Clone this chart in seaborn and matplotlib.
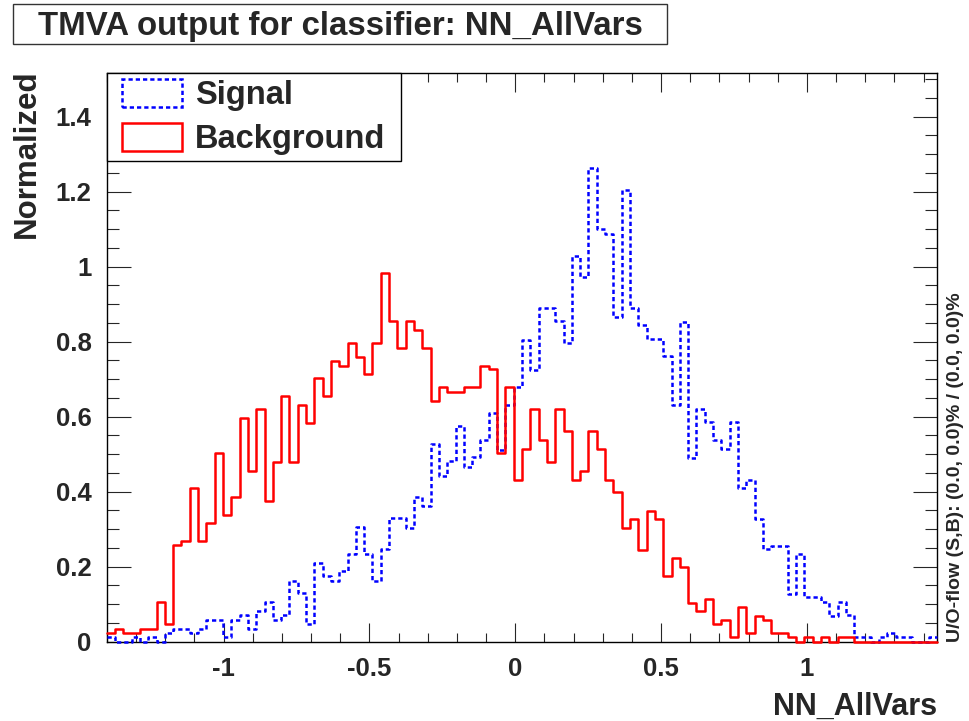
import numpy as np
import pandas as pd
import seaborn as sns
import matplotlib.pyplot as plt
from matplotlib.patches import Patch, Rectangle
from matplotlib.legend_handler import HandlerPatch
from matplotlib.ticker import MultipleLocator

# classifier output range (100 bins)
x_lo, x_hi = -1.401, 1.447

signal = [0.012, 0.0, 0.0, 0.012, 0.0, 0.012, 0.0, 0.023, 0.035, 0.035,
          0.023, 0.035, 0.058, 0.058, 0.012, 0.058, 0.070, 0.035, 0.082, 0.106,
          0.058, 0.070, 0.163, 0.130, 0.047, 0.210, 0.176, 0.163, 0.188, 0.234,
          0.305, 0.234, 0.163, 0.246, 0.329, 0.329, 0.303, 0.387, 0.361, 0.527,
          0.443, 0.481, 0.576, 0.467, 0.492, 0.539, 0.609, 0.512, 0.632, 0.678,
          0.804, 0.723, 0.889, 0.889, 0.854, 0.796, 1.029, 0.972, 1.263, 1.100,
          1.087, 0.865, 1.205, 0.889, 0.843, 0.807, 0.807, 0.761, 0.631, 0.851,
          0.491, 0.620, 0.585, 0.538, 0.514, 0.585, 0.409, 0.431, 0.327, 0.247,
          0.256, 0.256, 0.127, 0.235, 0.118, 0.118, 0.105, 0.069, 0.105, 0.070,
          0.012, 0.012, 0.0, 0.012, 0.023, 0.012, 0.012, 0.0, 0.0, 0.012]

background = [0.023, 0.035, 0.023, 0.023, 0.035, 0.035, 0.105, 0.047, 0.257, 0.269,
              0.409, 0.269, 0.316, 0.503, 0.339, 0.387, 0.596, 0.456, 0.620, 0.374,
              0.480, 0.655, 0.480, 0.632, 0.584, 0.702, 0.655, 0.747, 0.736, 0.795,
              0.760, 0.714, 0.795, 0.982, 0.854, 0.783, 0.854, 0.830, 0.783, 0.643,
              0.678, 0.667, 0.667, 0.678, 0.678, 0.736, 0.726, 0.502, 0.678, 0.431,
              0.514, 0.620, 0.538, 0.478, 0.620, 0.561, 0.431, 0.456, 0.561, 0.514,
              0.431, 0.398, 0.302, 0.327, 0.245, 0.349, 0.327, 0.174, 0.222, 0.198,
              0.104, 0.081, 0.115, 0.047, 0.058, 0.012, 0.093, 0.023, 0.069, 0.058,
              0.023, 0.023, 0.012, 0.0, 0.012, 0.0, 0.012, 0.0, 0.012, 0.012,
              0.0, 0.0, 0.0, 0.0, 0.0, 0.0, 0.0, 0.0, 0.0, 0.0]

xtick_vals = [-1, -0.5, 0, 0.5, 1]
xtick_labels = ['-1', '-0.5', '0', '0.5', '1']
ytick_vals = [0, 0.2, 0.4, 0.6, 0.8, 1.0, 1.2, 1.4]
ytick_labels = ['0', '0.2', '0.4', '0.6', '0.8', '1', '1.2', '1.4']

sns.set_style('white')
plt.rcParams['font.family'] = ['Liberation Sans', 'DejaVu Sans']
plt.rcParams['font.weight'] = 'bold'

edges = np.linspace(x_lo, x_hi, len(signal) + 1)
centers = 0.5 * (edges[:-1] + edges[1:])
df_sig = pd.DataFrame({'x': centers, 'w': signal})
df_bkg = pd.DataFrame({'x': centers, 'w': background})

fig = plt.figure(figsize=(9.69, 7.21), dpi=100)
ax = fig.add_axes([0.1101, 0.1100, 0.8572, 0.7892])

lw = 1.8
dash = (0, (1.7, 1.2))
sns.histplot(data=df_sig, x='x', weights='w', bins=edges.tolist(), element='step',
             fill=False, color='blue', linestyle=dash, linewidth=lw, ax=ax)
sns.histplot(data=df_bkg, x='x', weights='w', bins=edges.tolist(), element='step',
             fill=False, color='red', linewidth=lw, ax=ax)
for ln in ax.lines:
    ln.set_clip_on(False)
    ln.set_zorder(3)

ax.set_xlim(x_lo, x_hi)
ax.set_ylim(0, 1.517)
ax.set_xticks(xtick_vals, labels=xtick_labels)
ax.set_yticks(ytick_vals, labels=ytick_labels)
ax.xaxis.set_minor_locator(MultipleLocator(0.1))
ax.yaxis.set_minor_locator(MultipleLocator(0.05))
ax.tick_params(axis='x', which='major', direction='in', length=13.7, width=0.8,
               top=True, bottom=True, labelsize=18.5, pad=11)
ax.tick_params(axis='x', which='minor', direction='in', length=6.5, width=0.8,
               top=True, bottom=True)
ax.tick_params(axis='y', which='major', direction='in', length=17.3, width=0.8,
               left=True, right=True, labelsize=18.5, pad=11)
ax.tick_params(axis='y', which='minor', direction='in', length=8.6, width=0.8,
               left=True, right=True)
for sp in ax.spines.values():
    sp.set_linewidth(1.0)
    sp.set_color('black')

ax.set_xlabel('NN_AllVars', fontsize=22, fontweight='bold', ha='right', va='baseline')
ax.xaxis.set_label_coords(1.0, -0.1288)
ax.set_ylabel('Normalized', fontsize=22.5, fontweight='bold', ha='left', va='top',
              rotation_mode='default')
ax.yaxis.set_label_coords(-0.114, 1.005)


# legend box drawn a little in from the left of the handle slot
def shifted_box(legend, orig_handle, xdescent, ydescent, width, height, fontsize):
    off = 7.0
    return Rectangle((-xdescent + off, -ydescent), width - off, height)


handles = [Patch(facecolor='none', edgecolor='blue', linestyle=dash, linewidth=lw,
                 label='Signal'),
           Patch(facecolor='none', edgecolor='red', linewidth=lw, label='Background')]
leg = ax.legend(handles=handles, loc='upper left', bbox_to_anchor=(0, 0, 0.354, 1),
                mode='expand', borderaxespad=0, frameon=True, fancybox=False,
                edgecolor='black', framealpha=1, handlelength=2.12, handleheight=0.97,
                handletextpad=0.40, labelspacing=0.36, borderpad=0.18,
                handler_map={Patch: HandlerPatch(patch_func=shifted_box)},
                prop={'size': 23.5, 'weight': 'bold'})
leg.get_frame().set_linewidth(1.0)

# title box
fig.add_artist(Rectangle((12.7 / 969, 1 - 44.3 / 721), 654 / 969, 40.3 / 721,
                         transform=fig.transFigure, facecolor='white',
                         edgecolor='#333333', linewidth=1.0))
fig.text(340.5 / 969, 1 - 35.5 / 721, 'TMVA output for classifier: NN_AllVars',
         ha='center', va='baseline', fontsize=23.8, fontweight='bold')

fig.text(955 / 969, 1 - 642 / 721, 'U/O-flow (S,B): (0.0, 0.0)% / (0.0, 0.0)%',
         rotation=90, ha='center', va='bottom', fontsize=14, fontweight='bold')

fig.savefig('out.png', dpi=100, facecolor='white')
